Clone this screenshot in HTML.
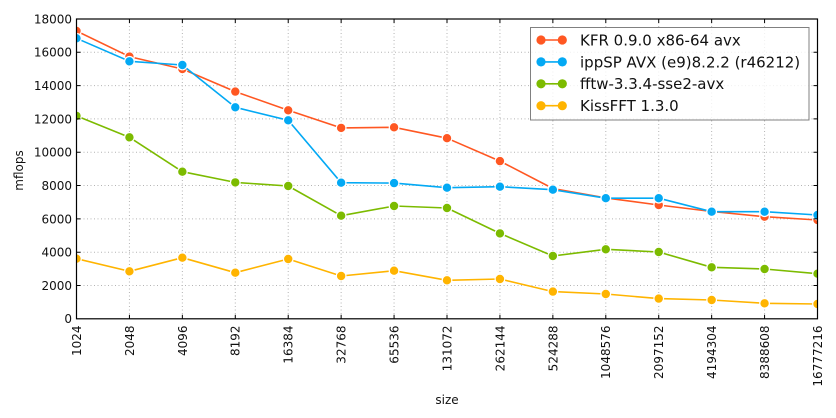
<!DOCTYPE html>
<html><head><meta charset="utf-8"><style>
html,body{margin:0;padding:0;background:#fff;}
svg{display:block;}
text{font-family:"DejaVu Sans","Liberation Sans",sans-serif;fill:#111;}
</style></head><body>
<svg width="836" height="418" viewBox="0 0 836 418" xmlns="http://www.w3.org/2000/svg">
<defs><clipPath id="c"><rect x="76.5" y="19" width="741" height="299.8"/></clipPath></defs>
<rect width="836" height="418" fill="#fff"/>
<!-- grid -->
<g stroke="#b4b4b4" stroke-width="1" stroke-dasharray="1,2.5" fill="none">
<path d="M129.43 19V318.8M182.36 19V318.8M235.29 19V318.8M288.22 19V318.8M341.14 19V318.8M394.07 19V318.8M447 19V318.8M499.93 19V318.8M552.86 19V318.8M605.79 19V318.8M658.72 19V318.8M711.65 19V318.8M764.57 19V318.8"/>
<path d="M76.5 285.5H817.5M76.5 252.2H817.5M76.5 218.9H817.5M76.5 185.5H817.5M76.5 152.2H817.5M76.5 118.9H817.5M76.5 85.6H817.5M76.5 52.3H817.5"/>
</g>
<!-- series -->
<g clip-path="url(#c)" stroke-linejoin="round">
<polyline fill="none" stroke="#ff5722" stroke-width="1.6" points="76.5,31.0 129.43,56.6 182.36,69.0 235.29,91.6 288.22,110.3 341.14,127.9 394.07,127.3 447,138.2 499.93,161.1 552.86,188.5 605.79,197.9 658.72,205.0 711.65,211.5 764.57,216.7 817.5,220.0"/>
<g fill="#ff5722" stroke="#fff" stroke-width="1.2">
<circle cx="76.5" cy="31.0" r="4.8"/><circle cx="129.43" cy="56.6" r="4.8"/><circle cx="182.36" cy="69.0" r="4.8"/><circle cx="235.29" cy="91.6" r="4.8"/><circle cx="288.22" cy="110.3" r="4.8"/><circle cx="341.14" cy="127.9" r="4.8"/><circle cx="394.07" cy="127.3" r="4.8"/><circle cx="447" cy="138.2" r="4.8"/><circle cx="499.93" cy="161.1" r="4.8"/><circle cx="552.86" cy="188.5" r="4.8"/><circle cx="605.79" cy="197.9" r="4.8"/><circle cx="658.72" cy="205.0" r="4.8"/><circle cx="711.65" cy="211.5" r="4.8"/><circle cx="764.57" cy="216.7" r="4.8"/><circle cx="817.5" cy="220.0" r="4.8"/>
</g>
<polyline fill="none" stroke="#03a9f4" stroke-width="1.6" points="76.5,38.3 129.43,61.3 182.36,65.0 235.29,107.3 288.22,120.3 341.14,182.7 394.07,183.1 447,187.7 499.93,186.7 552.86,189.7 605.79,198.2 658.72,198.2 711.65,211.7 764.57,211.7 817.5,215.0"/>
<g fill="#03a9f4" stroke="#fff" stroke-width="1.2">
<circle cx="76.5" cy="38.3" r="4.8"/><circle cx="129.43" cy="61.3" r="4.8"/><circle cx="182.36" cy="65.0" r="4.8"/><circle cx="235.29" cy="107.3" r="4.8"/><circle cx="288.22" cy="120.3" r="4.8"/><circle cx="341.14" cy="182.7" r="4.8"/><circle cx="394.07" cy="183.1" r="4.8"/><circle cx="447" cy="187.7" r="4.8"/><circle cx="499.93" cy="186.7" r="4.8"/><circle cx="552.86" cy="189.7" r="4.8"/><circle cx="605.79" cy="198.2" r="4.8"/><circle cx="658.72" cy="198.2" r="4.8"/><circle cx="711.65" cy="211.7" r="4.8"/><circle cx="764.57" cy="211.7" r="4.8"/><circle cx="817.5" cy="215.0" r="4.8"/>
</g>
<polyline fill="none" stroke="#7cbb00" stroke-width="1.6" points="76.5,115.9 129.43,137.3 182.36,171.7 235.29,182.4 288.22,186.0 341.14,215.7 394.07,206.0 447,208.0 499.93,233.4 552.86,256.0 605.79,249.3 658.72,252.0 711.65,267.3 764.57,269.0 817.5,273.7"/>
<g fill="#7cbb00" stroke="#fff" stroke-width="1.2">
<circle cx="76.5" cy="115.9" r="4.8"/><circle cx="129.43" cy="137.3" r="4.8"/><circle cx="182.36" cy="171.7" r="4.8"/><circle cx="235.29" cy="182.4" r="4.8"/><circle cx="288.22" cy="186.0" r="4.8"/><circle cx="341.14" cy="215.7" r="4.8"/><circle cx="394.07" cy="206.0" r="4.8"/><circle cx="447" cy="208.0" r="4.8"/><circle cx="499.93" cy="233.4" r="4.8"/><circle cx="552.86" cy="256.0" r="4.8"/><circle cx="605.79" cy="249.3" r="4.8"/><circle cx="658.72" cy="252.0" r="4.8"/><circle cx="711.65" cy="267.3" r="4.8"/><circle cx="764.57" cy="269.0" r="4.8"/><circle cx="817.5" cy="273.7" r="4.8"/>
</g>
<polyline fill="none" stroke="#ffb400" stroke-width="1.6" points="76.5,258.7 129.43,271.3 182.36,257.7 235.29,272.7 288.22,259.0 341.14,276.0 394.07,270.7 447,280.3 499.93,279.0 552.86,291.6 605.79,294.0 658.72,298.6 711.65,300.0 764.57,303.3 817.5,304.0"/>
<g fill="#ffb400" stroke="#fff" stroke-width="1.2">
<circle cx="76.5" cy="258.7" r="4.8"/><circle cx="129.43" cy="271.3" r="4.8"/><circle cx="182.36" cy="257.7" r="4.8"/><circle cx="235.29" cy="272.7" r="4.8"/><circle cx="288.22" cy="259.0" r="4.8"/><circle cx="341.14" cy="276.0" r="4.8"/><circle cx="394.07" cy="270.7" r="4.8"/><circle cx="447" cy="280.3" r="4.8"/><circle cx="499.93" cy="279.0" r="4.8"/><circle cx="552.86" cy="291.6" r="4.8"/><circle cx="605.79" cy="294.0" r="4.8"/><circle cx="658.72" cy="298.6" r="4.8"/><circle cx="711.65" cy="300.0" r="4.8"/><circle cx="764.57" cy="303.3" r="4.8"/><circle cx="817.5" cy="304.0" r="4.8"/>
</g>
</g>
<!-- frame -->
<rect x="76.5" y="19" width="741" height="299.8" fill="none" stroke="#000" stroke-width="1.2"/>
<!-- ticks -->
<g stroke="#000" stroke-width="1">
<path d="M129.43 318.8v-4M182.36 318.8v-4M235.29 318.8v-4M288.22 318.8v-4M341.14 318.8v-4M394.07 318.8v-4M447 318.8v-4M499.93 318.8v-4M552.86 318.8v-4M605.79 318.8v-4M658.72 318.8v-4M711.65 318.8v-4M764.57 318.8v-4"/>
<path d="M129.43 19v4M182.36 19v4M235.29 19v4M288.22 19v4M341.14 19v4M394.07 19v4M447 19v4M499.93 19v4M552.86 19v4M605.79 19v4M658.72 19v4M711.65 19v4M764.57 19v4"/>
<path d="M76.5 285.5h4M76.5 252.2h4M76.5 218.9h4M76.5 185.5h4M76.5 152.2h4M76.5 118.9h4M76.5 85.6h4M76.5 52.3h4"/>
<path d="M817.5 285.5h-4M817.5 252.2h-4M817.5 218.9h-4M817.5 185.5h-4M817.5 152.2h-4M817.5 118.9h-4M817.5 85.6h-4M817.5 52.3h-4"/>
</g>
<!-- y tick labels -->
<g font-size="12" text-anchor="end">
<text x="72" y="323.2">0</text>
<text x="72" y="289.9">2000</text>
<text x="72" y="256.6">4000</text>
<text x="72" y="223.3">6000</text>
<text x="72" y="189.9">8000</text>
<text x="72" y="156.6">10000</text>
<text x="72" y="123.3">12000</text>
<text x="72" y="90.0">14000</text>
<text x="72" y="56.7">16000</text>
<text x="72" y="23.4">18000</text>
</g>
<!-- x tick labels -->
<g font-size="12" text-anchor="end">
<text transform="translate(80.9,325.5) rotate(-90)">1024</text>
<text transform="translate(133.83,325.5) rotate(-90)">2048</text>
<text transform="translate(186.76,325.5) rotate(-90)">4096</text>
<text transform="translate(239.69,325.5) rotate(-90)">8192</text>
<text transform="translate(292.62,325.5) rotate(-90)">16384</text>
<text transform="translate(345.54,325.5) rotate(-90)">32768</text>
<text transform="translate(398.47,325.5) rotate(-90)">65536</text>
<text transform="translate(451.4,325.5) rotate(-90)">131072</text>
<text transform="translate(504.33,325.5) rotate(-90)">262144</text>
<text transform="translate(557.26,325.5) rotate(-90)">524288</text>
<text transform="translate(610.19,325.5) rotate(-90)">1048576</text>
<text transform="translate(663.12,325.5) rotate(-90)">2097152</text>
<text transform="translate(716.05,325.5) rotate(-90)">4194304</text>
<text transform="translate(768.97,325.5) rotate(-90)">8388608</text>
<text transform="translate(821.9,325.5) rotate(-90)">16777216</text>
</g>
<!-- axis labels -->
<text font-size="12" text-anchor="middle" transform="translate(23,170.5) rotate(-90)">mflops</text>
<text font-size="12" text-anchor="middle" x="447" y="404">size</text>
<!-- legend -->
<rect x="530.5" y="27.5" width="278.5" height="92.5" fill="#fff" fill-opacity="0.8" stroke="#808080" stroke-width="1"/>
<g stroke-width="1.6">
<line x1="541" y1="40" x2="562.3" y2="40" stroke="#ff5722"/>
<line x1="541" y1="61.9" x2="562.3" y2="61.9" stroke="#03a9f4"/>
<line x1="541" y1="83.8" x2="562.3" y2="83.8" stroke="#7cbb00"/>
<line x1="541" y1="105.7" x2="562.3" y2="105.7" stroke="#ffb400"/>
</g>
<g>
<circle cx="541" cy="40" r="4.6" fill="#ff5722"/><circle cx="562.3" cy="40" r="4.6" fill="#ff5722"/>
<circle cx="541" cy="61.9" r="4.6" fill="#03a9f4"/><circle cx="562.3" cy="61.9" r="4.6" fill="#03a9f4"/>
<circle cx="541" cy="83.8" r="4.6" fill="#7cbb00"/><circle cx="562.3" cy="83.8" r="4.6" fill="#7cbb00"/>
<circle cx="541" cy="105.7" r="4.6" fill="#ffb400"/><circle cx="562.3" cy="105.7" r="4.6" fill="#ffb400"/>
</g>
<g font-size="15">
<text x="580" y="45.4">KFR 0.9.0 x86-64 avx</text>
<text x="580" y="67.3">ippSP AVX (e9)8.2.2 (r46212)</text>
<text x="580" y="89.2">fftw-3.3.4-sse2-avx</text>
<text x="580" y="111.1">KissFFT 1.3.0</text>
</g>
</svg>
</body></html>
